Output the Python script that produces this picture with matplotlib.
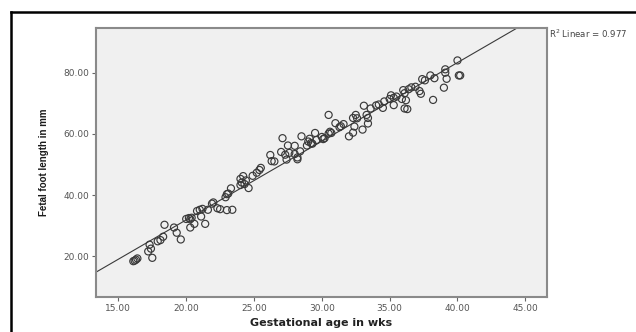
import numpy as np
import matplotlib.pyplot as plt
from matplotlib.lines import Line2D
from matplotlib.ticker import FormatStrFormatter

# gestational age (weeks) and fetal foot length (mm)
ga = [16.1, 16.2, 16.3, 16.4, 17.5, 17.2, 17.4, 17.3, 17.9, 18.1,
      18.3, 18.4, 19.1, 19.3, 19.6, 20.0, 20.2, 20.3, 20.4, 20.3,
      20.6, 20.8, 21.0, 21.2, 21.1, 21.4, 21.6, 21.9, 22.0, 22.3,
      22.5, 22.9, 23.0, 23.1, 23.0, 23.4, 23.3, 24.0, 24.1, 24.0,
      24.2, 24.3, 24.4, 24.6, 24.9, 25.2, 25.4, 25.5, 26.2, 26.3,
      26.5, 27.1, 27.0, 27.3, 27.4, 27.5, 27.6, 28.0, 28.0, 28.2,
      28.2, 28.5, 28.4, 28.9, 29.0, 29.1, 29.2, 29.5, 29.3, 29.6,
      30.0, 30.1, 30.2, 30.5, 30.5, 30.6, 30.7, 31.0, 31.3, 31.4,
      31.6, 32.0, 32.3, 32.3, 32.4, 32.5, 32.6, 33.0, 33.1, 33.3,
      33.4, 33.4, 33.6, 34.0, 34.2, 34.5, 34.6, 35.0, 35.1, 35.3,
      35.3, 35.5, 35.9, 36.0, 36.1, 36.1, 36.2, 36.3, 36.4, 36.6,
      36.9, 37.2, 37.3, 37.4, 37.6, 38.0, 38.3, 38.2, 39.0, 39.1,
      39.1, 39.2, 40.0, 40.1, 40.2]
foot = [18.4, 18.6, 18.9, 19.3, 19.5, 21.6, 22.5, 23.8, 24.9, 25.3,
        26.4, 30.3, 29.4, 27.7, 25.5, 32.2, 32.5, 32.1, 32.6, 29.4,
        30.6, 34.8, 35.2, 35.5, 33.0, 30.6, 35.2, 37.2, 37.6, 35.7,
        35.4, 39.3, 40.3, 40.5, 35.1, 35.2, 42.2, 43.3, 44.1, 45.3,
        46.2, 43.6, 44.8, 42.3, 46.3, 47.3, 48.2, 48.9, 53.1, 51.1,
        51.0, 58.6, 54.1, 53.2, 51.6, 56.2, 53.8, 56.1, 53.4, 52.3,
        51.7, 59.2, 54.3, 56.2, 57.5, 58.4, 57.0, 60.3, 56.8, 58.0,
        59.0, 58.3, 58.6, 66.2, 60.1, 60.7, 60.3, 63.5, 62.2, 62.5,
        63.2, 59.2, 60.4, 65.2, 62.4, 66.2, 65.1, 61.4, 69.2, 66.2,
        65.2, 63.4, 68.3, 69.3, 69.6, 68.5, 70.6, 71.4, 72.6, 71.8,
        69.4, 72.2, 71.4, 74.3, 73.3, 68.3, 71.0, 68.1, 74.6, 75.2,
        75.4, 74.0, 73.1, 77.9, 77.5, 79.1, 78.2, 71.1, 75.1, 81.1,
        80.0, 78.0, 84.0, 79.1, 79.1]

# fit line as drawn in the chart
slope = 2.57
intercept = -19.5
r2_text = "R$^2$ Linear = 0.977"

x_ticks = [15, 20, 25, 30, 35, 40, 45]
y_ticks = [20, 40, 60, 80]

fig = plt.figure(figsize=(6.36, 3.32), dpi=100)
ax = fig.add_axes([96 / 636, 35 / 332, 451 / 636, 269 / 332])
ax.set_facecolor('#f0f0f0')

ax.scatter(ga, foot, s=26, facecolors='none', edgecolors='#3a3a3a', linewidths=0.85, zorder=3)
ax.axline((0, intercept), slope=slope, color='#3a3a3a', lw=0.8, zorder=2)

ax.set_xlim(13.35, 46.6)
ax.set_ylim(6.7, 94.6)
ax.set_xticks(x_ticks)
ax.set_yticks(y_ticks)
ax.xaxis.set_major_formatter(FormatStrFormatter('%.2f'))
ax.yaxis.set_major_formatter(FormatStrFormatter('%.2f'))
ax.tick_params(length=3, width=0.8, color='#666666', labelsize=6.5, labelcolor='#555555', pad=2)
for s in ax.spines.values():
    s.set_color('#8a8a8a')
    s.set_linewidth(1.5)

ax.set_xlabel('Gestational age in wks', fontsize=8, fontweight='bold', color='#222222', labelpad=4)
ax.set_ylabel('Fetal foot length in mm', fontsize=7, fontweight='bold', color='#1a1a1a',
              family='Liberation Sans', labelpad=10)
fig.text(549 / 636, 1 - 34 / 332, r2_text, fontsize=6.2, color='#444444', va='center', ha='left')

# outer frame (cropped on right and bottom)
fig.add_artist(Line2D([10.5 / 636, 1], [1 - 11.5 / 332] * 2, color='black', lw=1.8))
fig.add_artist(Line2D([10.5 / 636] * 2, [1 - 11.5 / 332, 0], color='black', lw=1.8))

fig.savefig('out.png', dpi=100)
